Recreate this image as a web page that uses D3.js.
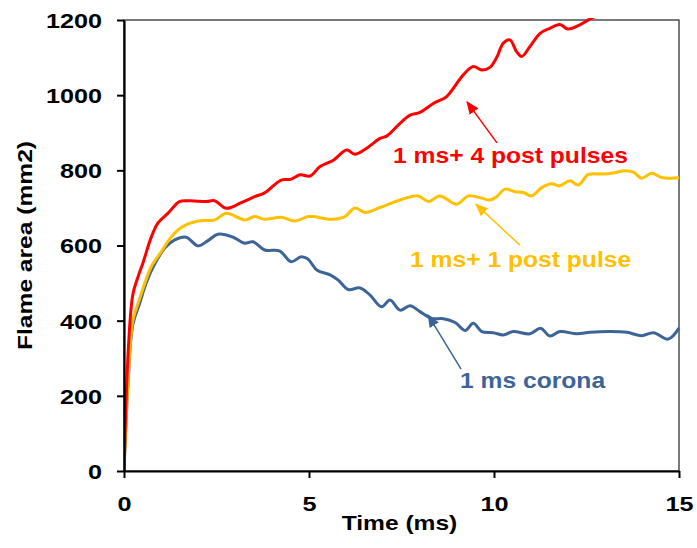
<!DOCTYPE html>
<html lang="en">
<head>
  <meta charset="UTF-8">
  <title>Flame area</title>
  <script src="https://d3js.org/d3.v7.min.js"></script>
  <style>
    body { margin: 0; background: #fff; }
    text { font-family: "Liberation Sans", Arial, sans-serif; font-weight: bold; }
  </style>
</head>
<body>
<div class="main"></div>
<script>

  // time (ms) and flame area (mm2)
  var redT = [0, 0.12, 0.24, 0.38, 0.51, 0.74, 0.92, 1.19, 1.5, 1.77, 2.23, 2.45, 2.77, 3.17, 3.53, 3.8, 4.25, 4.5, 4.76, 5.03, 5.3, 5.66, 6.02, 6.24, 6.56, 6.92, 7.1, 7.46, 7.73, 8.0, 8.36, 8.72, 8.9, 9.17, 9.44, 9.67, 9.89, 10.07, 10.25, 10.43, 10.61, 10.75, 10.97, 11.24, 11.51, 11.78, 12.0, 12.32, 12.6, 13.0, 14.0, 15.0];
  var redV = [0, 330, 470, 517, 553, 623, 660, 686, 717, 719, 717, 719, 699, 714, 730, 740, 774, 776, 788, 785, 810, 827, 854, 843, 859, 885, 891, 925, 947, 954, 978, 996, 1018, 1054, 1076, 1067, 1074, 1100, 1138, 1147, 1116, 1103, 1129, 1164, 1178, 1188, 1176, 1187, 1203, 1220, 1250, 1280];

  var yelT = [0, 0.11, 0.24, 0.38, 0.56, 0.74, 1.01, 1.28, 1.55, 2.0, 2.45, 2.77, 3.26, 3.53, 3.8, 4.25, 4.61, 4.97, 5.12, 5.4, 5.66, 5.97, 6.24, 6.51, 6.92, 7.46, 7.95, 8.23, 8.54, 8.99, 9.31, 9.67, 9.89, 10.07, 10.3, 10.57, 10.79, 11.02, 11.29, 11.56, 11.78, 12.05, 12.28, 12.55, 12.95, 13.22, 13.54, 13.77, 13.99, 14.26, 14.53, 14.76, 15.0];
  var yelV = [0, 240, 402, 446, 499, 544, 584, 623, 648, 665, 668, 686, 668, 677, 670, 675, 665, 677, 677, 672, 670, 677, 700, 688, 701, 721, 732, 717, 732, 710, 732, 726, 721, 730, 750, 743, 741, 732, 754, 764, 759, 772, 761, 789, 790, 793, 799, 795, 779, 792, 781, 779, 780];

  var bluT = [0, 0.11, 0.24, 0.42, 0.6, 0.8, 1.1, 1.37, 1.68, 2.0, 2.27, 2.54, 2.95, 3.26, 3.49, 3.8, 4.2, 4.52, 4.79, 4.97, 5.21, 5.57, 5.79, 6.06, 6.38, 6.65, 6.96, 7.19, 7.46, 7.73, 8.0, 8.32, 8.63, 8.95, 9.22, 9.44, 9.67, 9.98, 10.25, 10.52, 10.97, 11.26, 11.51, 11.78, 12.24, 12.6, 13.14, 13.59, 13.99, 14.31, 14.71, 15.0];
  var bluV = [0, 235, 390, 445, 500, 545, 593, 615, 622, 599, 613, 630, 622, 606, 610, 588, 586, 557, 570, 564, 535, 522, 508, 483, 487, 468, 437, 455, 428, 440, 424, 406, 405, 395, 374, 393, 371, 368, 362, 371, 365, 380, 359, 371, 365, 369, 371, 369, 360, 368, 351, 380];

  var seriesNames = ["1 ms corona", "1 ms+ 1 post pulse", "1 ms+ 4 post pulses"];
  var seriesColors = ["#3D6496", "#FFC000", "#FF0000"];

  var xTicks = [0, 5, 10, 15];
  var yTicks = [0, 200, 400, 600, 800, 1000, 1200];

  // label anchor and arrow (from, to) in data units: [t, v]
  var labelAt = [[9.08, 221], [7.73, 543], [7.27, 820]];
  var arrowFrom = [[9.11, 271], [10.7, 601], [10.08, 873]];
  var arrowTo = [[8.22, 415], [9.51, 710], [9.27, 982]];

  var width = 697, height = 548;
  var plotLeft = 124, plotRight = 679, plotTop = 20, plotBottom = 471;
  var stretch = 1.17;

  var svg = d3.select(".main").append("svg")
          .attr("width", width)
          .attr("height", height)
          .style("display", "block");

  var xScale = d3.scaleLinear().domain([0, 15]).range([plotLeft, plotRight]);
  var yScale = d3.scaleLinear().domain([0, 1200]).range([plotBottom, plotTop]);

  // widen glyphs a bit, the original text is drawn slightly wide
  function widen(sel, k) {
    sel.each(function () {
      var len = this.getComputedTextLength();
      d3.select(this).attr("textLength", len * k).attr("lengthAdjust", "spacingAndGlyphs");
    });
  }

  var defs = svg.append("defs");
  defs.append("clipPath").attr("id", "plotClip")
          .append("rect")
          .attr("x", plotLeft).attr("y", plotTop - 2)
          .attr("width", plotRight - plotLeft + 2).attr("height", plotBottom - plotTop + 2);

  // frame
  svg.append("rect")
          .attr("x", plotLeft).attr("y", plotTop)
          .attr("width", plotRight - plotLeft).attr("height", plotBottom - plotTop)
          .style("fill", "none").style("stroke", "#222").style("stroke-width", 1.2);

  var line = d3.line()
          .x(function (d) { return xScale(d[0]); })
          .y(function (d) { return yScale(d[1]); })
          .curve(d3.curveCatmullRom.alpha(0.5));

  var allSeries = [
    d3.zip(bluT, bluV),
    d3.zip(yelT, yelV),
    d3.zip(redT, redV)
  ];

  var lineG = svg.append("g").attr("clip-path", "url(#plotClip)");
  lineG.selectAll("path")
          .data(allSeries)
          .join("path")
          .attr("d", line)
          .style("fill", "none")
          .style("stroke", function (d, i) { return seriesColors[i]; })
          .style("stroke-width", 3)
          .style("stroke-linejoin", "round");

  // axes
  var xAxis = d3.axisBottom(xScale).tickValues(xTicks).tickSize(7).tickPadding(18).tickSizeOuter(0);
  var yAxis = d3.axisLeft(yScale).tickValues(yTicks).tickFormat(d3.format("d"))
          .tickSize(7).tickPadding(15).tickSizeOuter(0);

  var gx = svg.append("g").attr("transform", "translate(0," + plotBottom + ")").call(xAxis);
  var gy = svg.append("g").attr("transform", "translate(" + plotLeft + ",0)").call(yAxis);

  [gx, gy].forEach(function (g) {
    g.select(".domain").style("stroke", "#000").style("stroke-width", 2.2);
    g.selectAll(".tick line").style("stroke", "#000").style("stroke-width", 2);
    g.selectAll(".tick text")
            .style("font-family", "'Liberation Sans', Arial, sans-serif")
            .style("font-weight", "bold")
            .style("font-size", "21px")
            .style("fill", "#000");
  });
  gy.selectAll(".tick text").attr("dy", "0.35em");
  widen(gx.selectAll(".tick text"), 1.2);
  widen(gy.selectAll(".tick text"), 1.2);

  // axis titles
  var xt = svg.append("text")
          .attr("x", (plotLeft + plotRight) / 2 - 2).attr("y", 530)
          .attr("text-anchor", "middle")
          .style("font-size", "21px")
          .text("Time (ms)");
  widen(xt, stretch);

  var yt = svg.append("text")
          .attr("transform", "translate(32," + (plotTop + plotBottom) / 2 + ") rotate(-90)")
          .attr("text-anchor", "middle")
          .style("font-size", "21px")
          .text("Flame area (mm2)");
  widen(yt, stretch);

  // arrow heads
  seriesColors.forEach(function (c, i) {
    defs.append("marker")
            .attr("id", "arrow" + i)
            .attr("viewBox", "0 0 12 10")
            .attr("refX", 11).attr("refY", 5)
            .attr("markerWidth", 13).attr("markerHeight", 11)
            .attr("markerUnits", "userSpaceOnUse")
            .attr("orient", "auto")
            .append("path")
            .attr("d", "M0,0 L12,5 L0,10 Z")
            .style("fill", c);
  });

  var annG = svg.append("g");
  seriesNames.forEach(function (name, i) {
    annG.append("line")
            .attr("x1", xScale(arrowFrom[i][0])).attr("y1", yScale(arrowFrom[i][1]))
            .attr("x2", xScale(arrowTo[i][0])).attr("y2", yScale(arrowTo[i][1]))
            .style("stroke", seriesColors[i])
            .style("stroke-width", 1.5)
            .attr("marker-end", "url(#arrow" + i + ")");
    var t = annG.append("text")
            .attr("x", xScale(labelAt[i][0])).attr("y", yScale(labelAt[i][1]))
            .style("font-size", "22px")
            .style("fill", seriesColors[i])
            .text(name);
    widen(t, 1.12);
  });

</script>
</body>
</html>
